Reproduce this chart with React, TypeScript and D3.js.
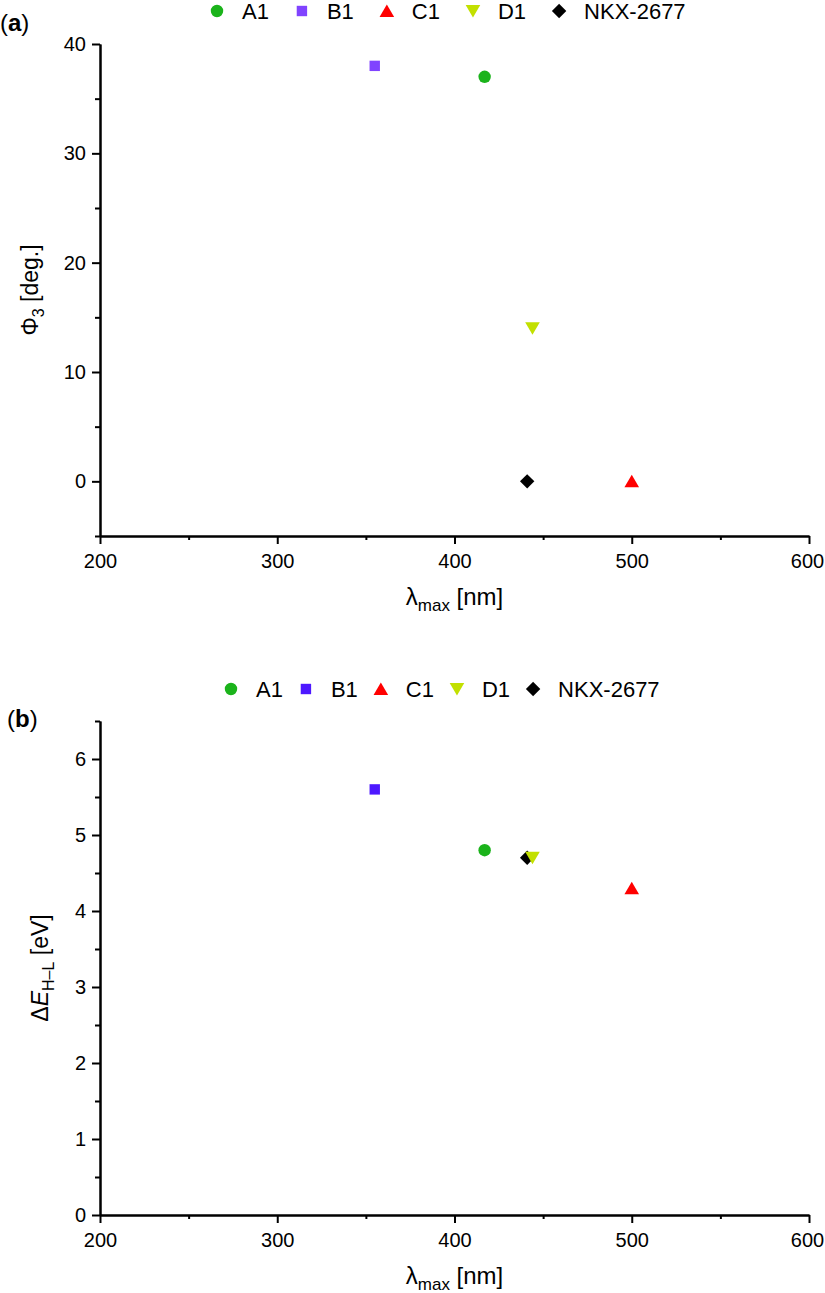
import { useEffect, useRef } from 'react';
import * as d3 from 'd3';

// compounds and their measured / computed properties
const compounds = ['A1', 'B1', 'C1', 'D1', 'NKX-2677'];
const lambdaMax = [417, 355, 500, 444, 441];
const phi3 = [37, 38, 0, 14, 0];
const gapHL = [4.8, 5.6, 4.3, 4.7, 4.7];
const shapes = ['circle', 'square', 'triangle', 'triangleDown', 'diamond'];
const colorsA = ['#1bb31b', '#8043ff', '#ff0000', '#c2e000', '#000000'];
const colorsB = ['#1bb31b', '#4d18ff', '#ff0000', '#c2e000', '#000000'];
// NKX is drawn before D1 so the triangle sits on top
const drawOrder = [0, 1, 2, 4, 3];

const xMajor = [200, 300, 400, 500, 600];
const xMinor = [250, 350, 450, 550];
const yMajorA = [0, 10, 20, 30, 40];
const yMinorA = [-5, 5, 15, 25, 35];
const yMajorB = [0, 1, 2, 3, 4, 5, 6];
const yMinorB = [0.5, 1.5, 2.5, 3.5, 4.5, 5.5, 6.5];

const FONT = '"Liberation Sans", Arial, Helvetica, sans-serif';

function markerPath(shape: string, cx: number, cy: number): string {
  switch (shape) {
    case 'circle': {
      const r = 6.2;
      return `M${cx - r},${cy}a${r},${r} 0 1,0 ${2 * r},0a${r},${r} 0 1,0 ${-2 * r},0Z`;
    }
    case 'square': {
      const h = 5.2;
      return `M${cx - h},${cy - h}h${2 * h}v${2 * h}h${-2 * h}Z`;
    }
    case 'triangle':
      return `M${cx},${cy - 6.5}L${cx + 7.3},${cy + 6}L${cx - 7.3},${cy + 6}Z`;
    case 'triangleDown':
      return `M${cx},${cy + 6.5}L${cx + 7.3},${cy - 6}L${cx - 7.3},${cy - 6}Z`;
    default: {
      const d = 7.2;
      return `M${cx},${cy - d}L${cx + d},${cy}L${cx},${cy + d}L${cx - d},${cy}Z`;
    }
  }
}

const App: React.FC = () => {
  const svgRef = useRef<SVGSVGElement>(null);

  useEffect(() => {
    if (!svgRef.current) return;
    const svg = d3.select(svgRef.current);
    svg.selectAll('*').remove();

    const x = d3.scaleLinear().domain([200, 600]).range([100, 809]);

    const styleAxis = (g: any) => {
      g.select('.domain').attr('stroke', '#000').attr('stroke-width', 2);
      g.selectAll('.tick line').attr('stroke', '#000').attr('stroke-width', 2);
      g.selectAll('.tick text')
        .attr('fill', '#000')
        .style('font-family', FONT)
        .style('font-size', '20px');
    };

    function panel(opts: {
      values: number[];
      yDomain: [number, number];
      yRange: [number, number];
      yMajor: number[];
      yMinor: number[];
      colors: string[];
      legendY: number;
      legendStart: number;
      legendGap: number;
      tag: string;
      tagX: number;
      tagY: number;
      yTitle: (t: any) => void;
      yTitleX: number;
    }) {
      const y = d3.scaleLinear().domain(opts.yDomain).range(opts.yRange);
      const bottom = opts.yRange[0];
      const top = opts.yRange[1];
      const g = svg.append('g');

      // minor ticks first, then major axes on top
      g.append('g')
        .attr('transform', `translate(0,${bottom})`)
        .call(d3.axisBottom(x).tickValues(xMinor).tickSize(4).tickSizeOuter(0).tickFormat(() => ''))
        .call(styleAxis);
      g.append('g')
        .attr('transform', `translate(100,0)`)
        .call(d3.axisLeft(y).tickValues(opts.yMinor).tickSize(5).tickSizeOuter(0).tickFormat(() => ''))
        .call(styleAxis);
      const xa = g.append('g')
        .attr('transform', `translate(0,${bottom})`)
        .call(d3.axisBottom(x).tickValues(xMajor).tickSize(8).tickPadding(10).tickSizeOuter(0).tickFormat(d3.format('d')))
        .call(styleAxis);
      // keep the last label inside the page edge
      xa.selectAll('.tick text').filter((d: any) => d === 600).attr('dx', -2);
      g.append('g')
        .attr('transform', `translate(100,0)`)
        .call(d3.axisLeft(y).tickValues(opts.yMajor).tickSize(8).tickPadding(6).tickSizeOuter(0).tickFormat(d3.format('d')))
        .call(styleAxis);

      // points
      g.append('g')
        .selectAll('path')
        .data(drawOrder)
        .join('path')
        .attr('d', (i) => markerPath(shapes[i], x(lambdaMax[i]), y(opts.values[i])))
        .attr('fill', (i) => opts.colors[i]);

      // legend laid out left to right
      const leg = g.append('g').style('font-family', FONT).style('font-size', '22px');
      let cx = opts.legendStart;
      compounds.forEach((name, i) => {
        leg.append('path').attr('d', markerPath(shapes[i], cx, opts.legendY)).attr('fill', opts.colors[i]);
        const t = leg.append('text')
          .attr('x', cx + 25)
          .attr('y', opts.legendY + 7.5)
          .attr('fill', '#000')
          .text(name);
        const w = (t.node() as SVGTextElement).getComputedTextLength();
        cx = cx + 25 + w + opts.legendGap;
      });

      // panel tag
      const tag = g.append('text')
        .attr('x', opts.tagX)
        .attr('y', opts.tagY)
        .style('font-family', FONT)
        .style('font-size', '24px')
        .attr('fill', '#000');
      tag.append('tspan').text('(');
      tag.append('tspan').attr('font-weight', 'bold').text(opts.tag);
      tag.append('tspan').text(')');

      // x title
      const xt = g.append('text')
        .attr('x', (100 + 809) / 2)
        .attr('y', bottom + 69)
        .attr('text-anchor', 'middle')
        .style('font-family', FONT)
        .style('font-size', '24px')
        .attr('fill', '#000');
      xt.append('tspan').text('λ');
      xt.append('tspan').attr('dy', 6).style('font-size', '17px').text('max');
      xt.append('tspan').attr('dy', -6).text(' [nm]');

      // y title
      const yt = g.append('text')
        .attr('transform', `translate(${opts.yTitleX},${(top + bottom) / 2}) rotate(-90)`)
        .attr('text-anchor', 'middle')
        .style('font-family', FONT)
        .style('font-size', '23px')
        .attr('fill', '#000');
      opts.yTitle(yt);
    }

    panel({
      values: phi3,
      yDomain: [-5, 40],
      yRange: [536, 44],
      yMajor: yMajorA,
      yMinor: yMinorA,
      colors: colorsA,
      legendY: 11,
      legendStart: 217,
      legendGap: 33,
      tag: 'a',
      tagX: 0,
      tagY: 31,
      yTitleX: 38,
      yTitle: (t) => {
        t.append('tspan').text('Φ');
        t.append('tspan').attr('dy', 6).style('font-size', '16px').text('3');
        t.append('tspan').attr('dy', -6).text(' [deg.]');
      },
    });

    panel({
      values: gapHL,
      yDomain: [0, 6.5],
      yRange: [1215, 721],
      yMajor: yMajorB,
      yMinor: yMinorB,
      colors: colorsB,
      legendY: 689,
      legendStart: 231,
      legendGap: 23,
      tag: 'b',
      tagX: 7,
      tagY: 727,
      yTitleX: 48,
      yTitle: (t) => {
        t.append('tspan').text('Δ');
        t.append('tspan').attr('font-style', 'italic').text('E');
        t.append('tspan').attr('dy', 6).style('font-size', '16px').text('H–L');
        t.append('tspan').attr('dy', -6).text(' [eV]');
      },
    });
  }, []);

  return (
    <div style={{ position: 'absolute', left: 0, top: 0 }}>
      <svg ref={svgRef} width={825} height={1293} style={{ display: 'block', background: '#fff' }}></svg>
    </div>
  );
};

export default App;
